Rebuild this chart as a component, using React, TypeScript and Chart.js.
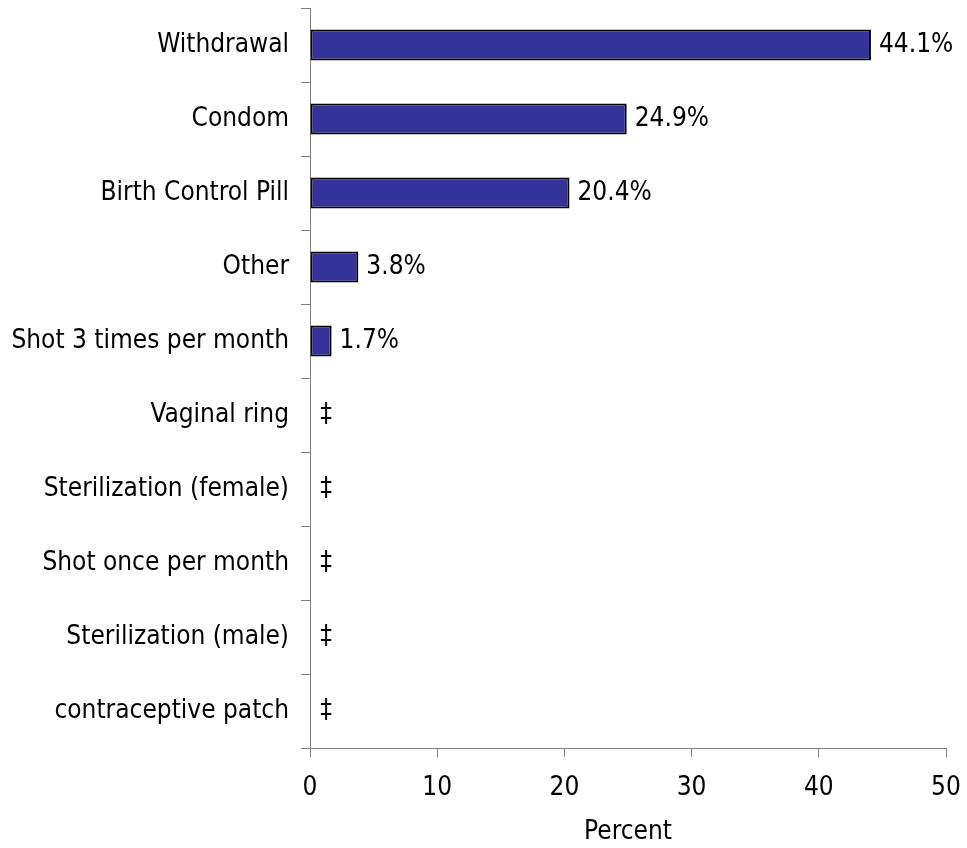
import React, { useEffect, useRef } from "react";
import { Chart, registerables } from "chart.js";

Chart.register(...registerables);

const categories = [
  "Withdrawal",
  "Condom",
  "Birth Control Pill",
  "Other",
  "Shot 3 times per month",
  "Vaginal ring",
  "Sterilization (female)",
  "Shot once per month",
  "Sterilization (male)",
  "contraceptive patch",
];
const values: (number | null)[] = [44.1, 24.9, 20.4, 3.8, 1.7, null, null, null, null, null];
const valueLabels = ["44.1%", "24.9%", "20.4%", "3.8%", "1.7%", "‡", "‡", "‡", "‡", "‡"];
const xMin = 0;
const xMax = 50;
const xStep = 10;
const xTitle = "Percent";

const FONT = "'DejaVu Sans Condensed', 'DejaVu Sans', sans-serif";

const labelPlugin = {
  id: "valueLabels",
  afterDatasetsDraw(chart: any) {
    const ctx = chart.ctx;
    const xs = chart.scales.x;
    const ys = chart.scales.y;
    ctx.save();
    ctx.font = `26px ${FONT}`;
    ctx.fillStyle = "#000";
    ctx.textBaseline = "middle";
    values.forEach((v, i) => {
      const y = ys.getPixelForValue(i);
      if (v == null) {
        ctx.textAlign = "center";
        ctx.fillText(valueLabels[i], xs.getPixelForValue(0) + 16, y);
      } else {
        ctx.textAlign = "left";
        ctx.fillText(valueLabels[i], xs.getPixelForValue(v) + 8, y);
      }
    });
    ctx.restore();
  },
};

export default function App() {
  const ref = useRef<HTMLCanvasElement>(null);
  useEffect(() => {
    if (!ref.current) return;
    const chart = new Chart(ref.current, {
      type: "bar",
      data: {
        labels: categories,
        datasets: [
          {
            data: values as any,
            backgroundColor: "#333399",
            borderColor: "#000000",
            borderWidth: 2,
            borderSkipped: false,
            barPercentage: 0.42,
            categoryPercentage: 1,
          },
        ],
      },
      options: {
        indexAxis: "y",
        responsive: false,
        animation: false,
        layout: { padding: { top: 8, right: 21, left: 0, bottom: 0 } },
        plugins: {
          legend: { display: false },
          tooltip: { enabled: false },
        },
        scales: {
          x: {
            min: xMin,
            max: xMax,
            afterFit: (s: any) => {
              s.height = 100;
              s.paddingLeft = 0;
              s.paddingRight = 0;
            },
            ticks: {
              stepSize: xStep,
              color: "#000",
              font: { family: FONT, size: 26 },
              padding: 16,
              maxRotation: 0,
            },
            grid: {
              drawOnChartArea: false,
              drawTicks: true,
              tickLength: 9,
              color: "#808080",
            },
            border: { color: "#808080", width: 1 },
            title: {
              display: true,
              text: xTitle,
              color: "#000",
              font: { family: FONT, size: 26 },
              padding: { top: 0, bottom: 0 },
            },
          },
          y: {
            afterFit: (s: any) => {
              s.width = 310;
              s.paddingTop = 0;
              s.paddingBottom = 0;
            },
            ticks: {
              color: "#000",
              font: { family: FONT, size: 26 },
              padding: 12,
            },
            grid: {
              offset: true,
              drawOnChartArea: false,
              drawTicks: true,
              tickLength: 9,
              color: "#808080",
            },
            border: { color: "#808080", width: 1 },
          },
        },
      },
      plugins: [labelPlugin],
    });
    return () => chart.destroy();
  }, []);
  return (
    <div style={{ position: "fixed", left: 0, top: 0, width: 967, height: 848, background: "#fff" }}>
      <canvas ref={ref} width={967} height={848} style={{ width: 967, height: 848 }} />
    </div>
  );
}
